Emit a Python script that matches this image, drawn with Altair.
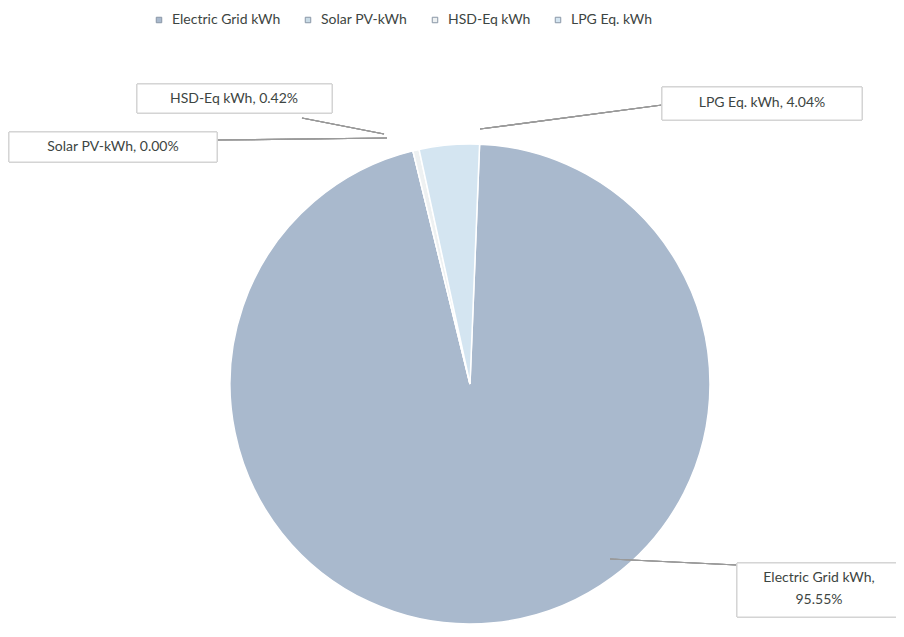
import math
import altair as alt
import pandas as pd

categories = ["Electric Grid kWh", "Solar PV-kWh", "HSD-Eq kWh", "LPG Eq. kWh"]
shares = [95.55, 0.00, 0.42, 4.04]
colors = ["#a9b9cd", "#c9dbe6", "#eef1f2", "#d4e5f1"]

df = pd.DataFrame({
    "cat": categories,
    "val": shares,
    "ord": list(range(len(categories))),
})
df["label"] = [f"{c}, {v:.2f}%" for c, v in zip(categories, shares)]

FONT = "Lato"
TXT = "#3d4542"
start = 0.04

pie = alt.Chart(df).mark_arc(outerRadius=240, stroke="white", strokeWidth=1.5).encode(
    theta=alt.Theta("val:Q", stack=True, scale=alt.Scale(range=[start, start + 2 * math.pi])),
    order=alt.Order("ord:Q"),
    color=alt.Color(
        "cat:N",
        scale=alt.Scale(domain=categories, range=colors),
        sort=categories,
        legend=alt.Legend(
            title=None, orient="none", legendX=142, legendY=5, direction="horizontal",
            symbolType="square", symbolSize=30, symbolStrokeColor="#8a97a6",
            symbolStrokeWidth=1, labelFont=FONT, labelFontSize=14,
            labelColor=TXT, columnPadding=20, symbolOffset=0, labelOffset=6,
        ),
    ),
    x=alt.value(460),
    y=alt.value(376),
)

def box(x1, x2, y1, y2):
    return alt.Chart(df).mark_rect(fill="white", stroke="#d2d2d2", strokeWidth=1).encode(
        x=alt.value(x1), x2=alt.value(x2), y=alt.value(y1), y2=alt.value(y2)
    )

def leader(x1, y1, x2, y2):
    return alt.Chart(df).mark_rule(color="#9a9a9a", strokeWidth=1.2).encode(
        x=alt.value(x1), x2=alt.value(x2), y=alt.value(y1), y2=alt.value(y2)
    )

def label(cat, x, y):
    return alt.Chart(df).transform_filter(alt.datum.cat == cat).mark_text(
        font=FONT, fontSize=14, color=TXT, align="center", baseline="middle"
    ).encode(text="label:N", x=alt.value(x), y=alt.value(y))

elec = alt.Chart(df).transform_filter(alt.datum.cat == categories[0]).transform_calculate(
    l1="datum.cat + ','", l2="format(datum.val, '.2f') + '%'"
)
elec_t1 = elec.mark_text(font=FONT, fontSize=14, color=TXT, align="center", baseline="middle").encode(
    text="l1:N", x=alt.value(809), y=alt.value(570))
elec_t2 = elec.mark_text(font=FONT, fontSize=14, color=TXT, align="center", baseline="middle").encode(
    text="l2:N", x=alt.value(809), y=alt.value(592))

chart = alt.layer(
    pie,
    leader(292, 110, 374, 126),
    leader(207, 132, 377, 130),
    leader(652, 97, 470, 121),
    leader(600, 551, 727, 557),
    box(127, 322, 76, 105),
    box(-1, 207, 124, 154),
    box(652, 852, 79, 112),
    box(727, 892, 555, 609),
    label(categories[2], 224, 91),
    label(categories[1], 103, 139),
    label(categories[3], 752, 95),
    elec_t1, elec_t2,
).properties(
    width=888, height=621,
    autosize=alt.AutoSizeParams(type="fit", contains="padding"),
    padding=0,
).configure(background="white").configure_view(strokeWidth=0, stroke="transparent")

chart.save("out.html", embed_options={"renderer": "svg", "actions": False})
